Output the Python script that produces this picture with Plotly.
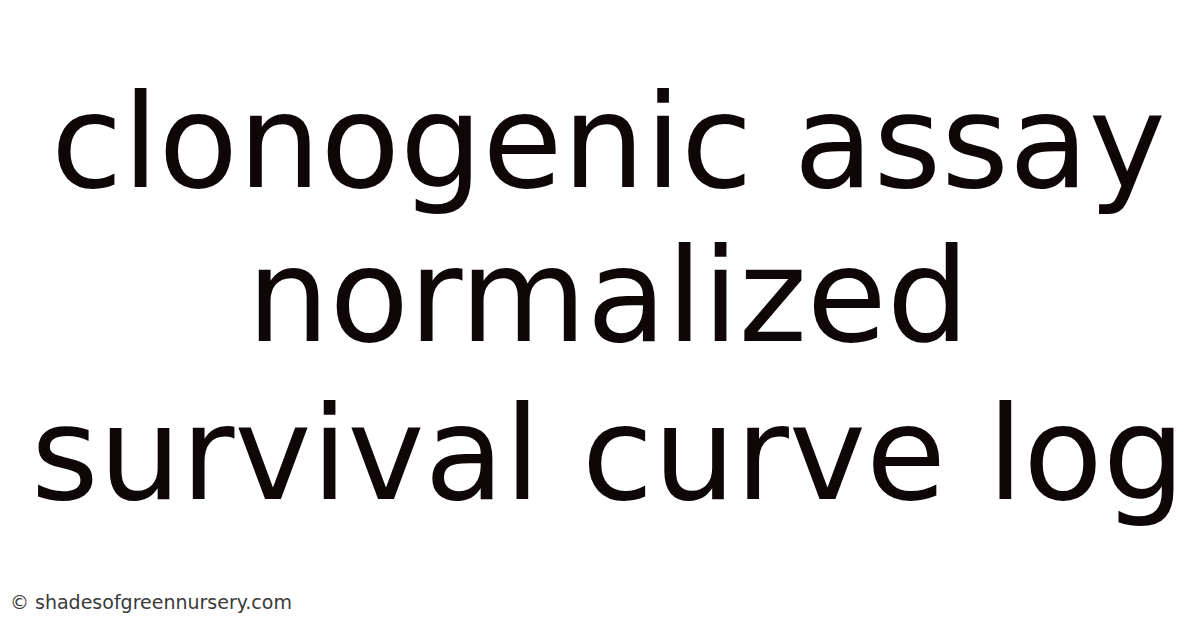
import plotly.graph_objects as go

# title lines, top to bottom
title_lines = ["clonogenic assay", "normalized", "survival curve log"]
# vertical centre of each line, in paper fractions (0 = bottom)
line_positions = [0.787, 0.541, 0.290]
watermark = "© shadesofgreennursery.com"

fig = go.Figure()

for text, ypos in zip(title_lines, line_positions):
    fig.add_annotation(
        text=text,
        x=0.5, y=ypos,
        xref="paper", yref="paper",
        xanchor="center", yanchor="middle",
        showarrow=False,
        font=dict(family="DejaVu Sans", size=130, color="#0f0707"),
    )

# small site credit in the bottom-left corner
fig.add_annotation(
    text=watermark,
    x=0, y=34,
    xref="x", yref="y",
    xanchor="left", yanchor="middle",
    showarrow=False,
    font=dict(family="DejaVu Sans", size=19, color="#3a3a3a"),
)

fig.update_xaxes(range=[0, 1200], visible=False)
fig.update_yaxes(range=[0, 628], visible=False)

fig.update_layout(
    width=1200, height=628,
    margin=dict(l=0, r=0, t=0, b=0),
    paper_bgcolor="white",
    plot_bgcolor="white",
    showlegend=False,
)

fig.write_html("out.html")
